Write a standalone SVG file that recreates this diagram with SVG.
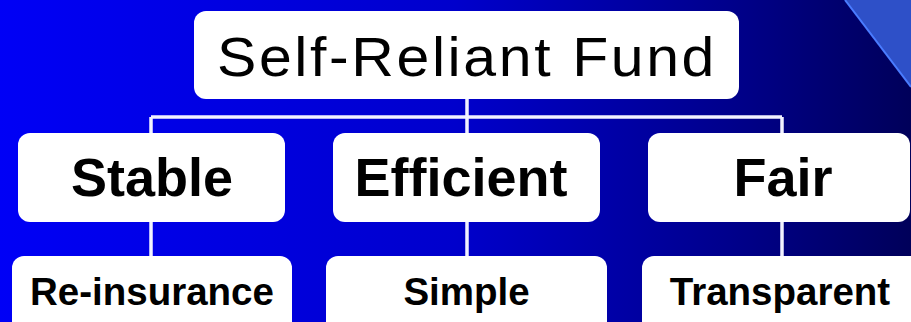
<svg xmlns="http://www.w3.org/2000/svg" width="911" height="322" viewBox="0 0 911 322">
  <defs>
    <linearGradient id="bg" x1="0" y1="0" x2="1" y2="0">
      <stop offset="0" stop-color="#0000f6"/>
      <stop offset="0.5" stop-color="#0000cc"/>
      <stop offset="0.8" stop-color="#00008c"/>
      <stop offset="1" stop-color="#00005a"/>
    </linearGradient>
    <style>
      .box { fill: #ffffff; }
      .link { stroke: #f2f2ff; stroke-width: 3.5; fill: none; }
      .title { font-family: "Liberation Sans", Arial, sans-serif; font-size: 56px; letter-spacing: 2.5px; fill: #000; }
      .mid { font-family: "Liberation Sans", Arial, sans-serif; font-weight: bold; font-size: 54px; fill: #000; text-anchor: middle; }
      .leaf { font-family: "Liberation Sans", Arial, sans-serif; font-weight: bold; font-size: 38.5px; fill: #000; text-anchor: middle; }
    </style>
  </defs>

  <!-- backdrop -->
  <rect x="0" y="0" width="911" height="322" fill="url(#bg)"/>
  <polygon points="845,0 911,0 911,87" fill="#2e50c8"/>
  <line x1="845" y1="0" x2="911" y2="87" stroke="#4a7cff" stroke-width="2"/>

  <!-- connectors -->
  <g id="connectors" class="link">
    <line x1="467" y1="98" x2="467" y2="117"/>
    <line x1="151" y1="117" x2="782" y2="117"/>
    <line x1="151" y1="117" x2="151" y2="134"/>
    <line x1="467" y1="117" x2="467" y2="134"/>
    <line x1="782" y1="117" x2="782" y2="134"/>
    <line x1="151" y1="221" x2="151" y2="257"/>
    <line x1="467" y1="221" x2="467" y2="257"/>
    <line x1="782" y1="221" x2="782" y2="257"/>
  </g>

  <g id="root">
    <rect class="box" x="194" y="11" width="545" height="88" rx="12"/>
    <text class="title" x="217" y="76" textLength="500" lengthAdjust="spacingAndGlyphs">Self-Reliant Fund</text>
  </g>

  <g id="stable">
    <rect class="box" x="18" y="133" width="267" height="89" rx="12"/>
    <text class="mid" x="152" y="196">Stable</text>
  </g>
  <g id="efficient">
    <rect class="box" x="333" y="133" width="267" height="89" rx="12"/>
    <text class="mid" x="461" y="196">Efficient</text>
  </g>
  <g id="fair">
    <rect class="box" x="648" y="133" width="262" height="89" rx="12"/>
    <text class="mid" x="783" y="196">Fair</text>
  </g>

  <g id="reinsurance">
    <rect class="box" x="12" y="256" width="280" height="80" rx="12"/>
    <text class="leaf" x="152" y="305">Re-insurance</text>
  </g>
  <g id="simple">
    <rect class="box" x="326" y="256" width="281" height="80" rx="12"/>
    <text class="leaf" x="466.5" y="305">Simple</text>
  </g>
  <g id="transparent">
    <rect class="box" x="642" y="256" width="280" height="80" rx="12"/>
    <text class="leaf" x="780" y="305">Transparent</text>
  </g>
</svg>
